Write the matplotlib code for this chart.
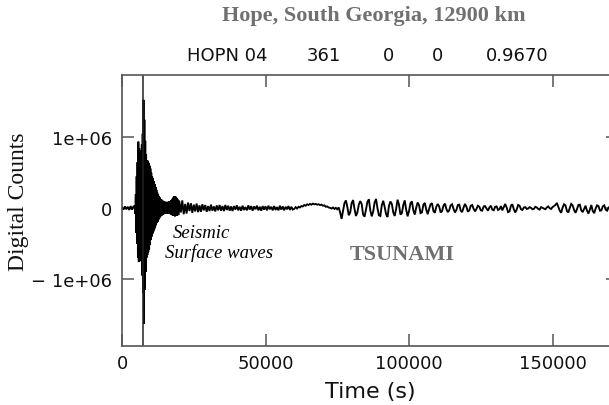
import numpy as np
import matplotlib
matplotlib.use("Agg")
import matplotlib.pyplot as plt

# ---------------- data (digital counts, in thousands) ----------------
# pre-event noise, sampled every 500 s from t = 0
pre_start, pre_dt = 0, 500
pre_k = [10, -20, 25, -15, 20, -25, 30, -20, 25]

# seismic surface-wave burst, sampled every 150 s from t = 4500
burst_start, burst_dt = 4500, 150
burst_k = [30, -80, 200, -350, 450, -500, 650, -700, 940, -760,
           850, -720, 800, -700, 820, -750, 900, -950, 1050, -1200,
           1530, -1630, 1250, -1150, 950, -900, 760, -700, 680, -660,
           670, -620, 640, -580, 600, -520, 560, -450, 500, -400,
           450, -360, 420, -330, 380, -300, 340, -270, 300, -240,
           260, -210, 220, -190, 190, -160, 170, -140, 150, -120,
           130, -110, 120, -100, 110, -90, 100, -85, 95, -80,
           90, -80, 85, -75, 90, -70, 85, -75, 90, -70,
           95, -80, 100, -85, 110, -90, 120, -100, 140, -105,
           160, -110, 170, -115, 165, -110, 150, -105, 135, -100,
           120, -95, 105]

# coda + tsunami, sampled every 500 s from t = 20000
coda_start, coda_dt = 20000, 500
coda_k = ([90, -60, 110, -85, 60, -75, 80, -40, 70, -65, 50, -45, 65, -55, 40, -50]
          + [55, -30, 45, -50, 30, -40, 50, -35, 25, -45, 40, -30, 45, -35, 30, -40,
             45, -25, 35, -35]
          + [25, -40, 30, -20, 40, -30, 20, -35, 35, -25, 15, -30, 40, -20, 30, -35,
             25, -15, 35, -30, 20, -35, 30, -20, 25, -30, 35, -15, 20, -30, 30, -25,
             15, -30, 35, -20, 25, -30, 20, -15, 30, -25, 20, -20]
          + [-10, 15, -5, 20, 10, 30, 25, 45, 35, 55, 45, 60, 50, 65, 55, 60,
             50, 55, 45, 50, 35, 40, 20, 25, 10, 5, -5, 10, -10, 5, -15, 10]
          + [-60, -150, -40, 70, 110, 20, -100, -60]
          + [70, 115, -10, -110, -60, 50, 100, 60, -90, -120, -20, 90, 125, -30, -115, -50,
             80, 130, 0, -100, -110, 40, 105, 20, -85, -125, 30, 95, 60, -60, -110, -10,
             120, 50, -90, -70, 45, 110, -20, -115]
          + [-40, 70, 95, -30, -90, 10, 80, 40, -70, -60, 50, 75]
          + [-20, -85, -10, 55, 70, -40, -65, 20, 60, 25, -60, -40, 35, 65, -10, -55,
             -30, 40]
          + [55, -10, -60, -25, 45, 50, -35, -55, 10, 60, 20, -50, -30, 35, 45, -10]
          + [-45, -10, 35, 20, -30, -35, 25, 30, -5, -35, 10, 35, -20, -30, 20, 25,
             -25, -15, 30, -30]
          + [15, 60, 10, -55, -45, 35, 55, -15, -60, -20, 45, 35]
          + [-15, -25, 10, 15, -10, -5, 15, 5, -15, -10, 20, 10, -10, -20, 15, 5,
             -5, -15, 10, 25, 0, -10, 15, 30]
          + [45, 75, 20, -35, -65, 10, 55, 40, -40, -60, 5, 60, 40, -25, -65, -15,
             45, 50, -30, -55, -10, 35, -35, -75, -20, 45, -40, -70]
          + [-5, 40, 30, -35, -30, 25, 40, -20, -35, 5, 30, 20, -30, -25, 15, 35])

arrival_time = 7200          # vertical marker (s)
x_ticks = [0, 50000, 100000, 150000]
x_ticklabels = ["0", "50000", "100000", "150000"]
y_ticks = [-1e6, 0, 1e6]
y_ticklabels = ["\u2212 1e+06", "0", "1e+06"]
header = [("HOPN 04", 187), ("361", 307), ("0", 383), ("0", 432), ("0.9670", 486)]

# ---------------- assemble ----------------
def seg(start, dt, vals):
    t = start + dt * np.arange(len(vals))
    return t, np.asarray(vals, float) * 1000.0

t1, v1 = seg(pre_start, pre_dt, pre_k)
t2, v2 = seg(burst_start, burst_dt, burst_k)
t3, v3 = seg(coda_start, coda_dt, coda_k)
t = np.concatenate([t1, t2, t3])
v = np.concatenate([v1, v2, v3])

W, H = 609, 406
fig = plt.figure(figsize=(W / 100, H / 100), dpi=100)
L, R, T, B = 122, 618, 76, 347
ax = fig.add_axes([L / W, 1 - B / H, (R - L) / W, (B - T) / H])

ax.plot(t, v, color="black", lw=1.35, solid_joinstyle="miter")
ax.axvline(arrival_time, color="#222222", lw=1.1)

ax.set_xlim(0, 172800)
ax.set_ylim(-1.945e6, 1.88e6)

spine_c = "#555555"
for s in ax.spines.values():
    s.set_color(spine_c)
    s.set_linewidth(1.2)

ax.set_xticks(x_ticks)
ax.set_xticklabels(x_ticklabels)
ax.set_yticks(y_ticks)
ax.set_yticklabels(y_ticklabels)
ax.tick_params(direction="in", length=8.5, width=1.1, color=spine_c,
               top=True, right=True, labelsize=13, labelcolor="#111111")
ax.tick_params(axis="x", pad=6)
ax.tick_params(axis="y", pad=7)
for lab in ax.get_xticklabels() + ax.get_yticklabels():
    lab.set_family("DejaVu Sans")

ax.set_xlabel("Time (s)", fontsize=16, family="DejaVu Sans", color="#111111")
ax.xaxis.set_label_coords(0.5, -0.128)

fig.text(19 / W, 1 - 202 / H, "Digital Counts", rotation=90, ha="center",
         va="center", fontsize=17, family="Liberation Serif", color="#111111")

fig.text(374 / W, 1 - 21 / H, "Hope, South Georgia, 12900 km", ha="center",
         va="baseline", fontsize=16, family="Liberation Serif",
         fontweight="bold", color="#707070")

for txt, px in header:
    fig.text(px / W, 1 - 61 / H, txt, ha="left", va="baseline", fontsize=13,
             family="DejaVu Sans", color="#111111")

def ax_xy(px, py):
    return (px - L) / (R - L), (B - py) / (B - T)

ax.text(*ax_xy(173, 238), "Seismic", transform=ax.transAxes, fontsize=13.5,
        family="Liberation Serif", style="italic", va="baseline", ha="left")
ax.text(*ax_xy(165, 258), "Surface waves", transform=ax.transAxes, fontsize=13.5,
        family="Liberation Serif", style="italic", va="baseline", ha="left")
ax.text(*ax_xy(350, 259.5), "TSUNAMI", transform=ax.transAxes, fontsize=16,
        family="Liberation Serif", fontweight="bold", color="#707070",
        va="baseline", ha="left")

fig.savefig("out.png", dpi=100)
